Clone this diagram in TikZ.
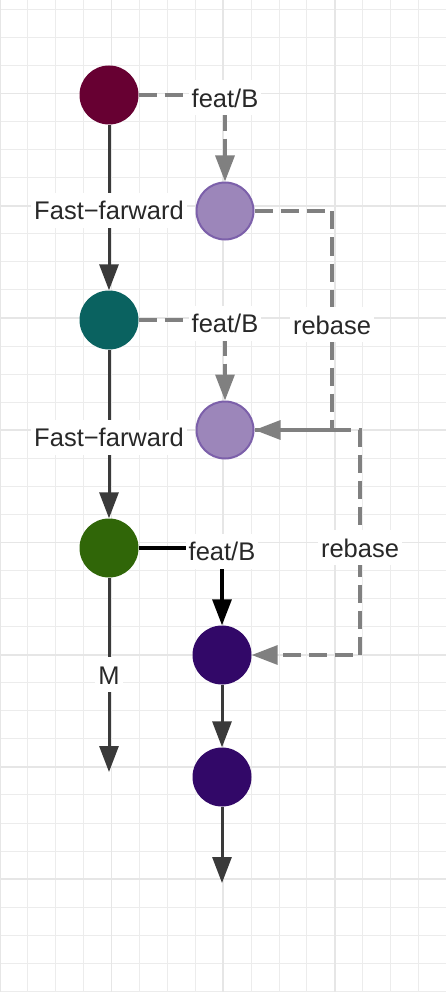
\documentclass[tikz,border=0pt]{standalone}
\usepackage{fontspec}
\setmainfont{Liberation Sans}
\usetikzlibrary{arrows.meta}
\definecolor{cMaroon}{RGB}{103,0,50}
\definecolor{cTeal}{RGB}{10,98,96}
\definecolor{cGreen}{RGB}{48,102,8}
\definecolor{cLav}{RGB}{156,134,186}
\definecolor{cLavB}{RGB}{124,96,170}
\definecolor{cIndigo}{RGB}{50,8,104}
\definecolor{cLine}{RGB}{58,58,58}
\definecolor{cDash}{RGB}{128,128,128}
\definecolor{cText}{RGB}{40,40,40}
\definecolor{cGridMinor}{RGB}{236,236,236}
\definecolor{cGridMajor}{RGB}{230,230,230}
\begin{document}
\begin{tikzpicture}[x=1pt,y=-1pt,
  commit/.style={circle, minimum size=59pt, inner sep=0pt},
  lbl/.style={fill=white, inner xsep=3pt, inner ysep=5pt, text height=22pt, text depth=3pt,
    font=\fontsize{25.5}{30}\selectfont, text=cText},
  tipstyle/.style={-{Triangle[length=26pt,width=19pt]}},
  solidedge/.style={draw=cLine, line width=3pt, tipstyle},
  blackedge/.style={draw=black, line width=3.3pt, tipstyle},
  dashedge/.style={draw=cDash, line width=3.3pt, dash pattern=on 18pt off 8pt, tipstyle},
  gridminor/.style={draw=cGridMinor, line width=1pt},
  gridmajor/.style={draw=cGridMajor, line width=1.6pt},
]
\useasboundingbox (0,0) rectangle (446,992);
\fill[white] (0,0) rectangle (446,992);
\begin{scope}
  \clip (0,0) rectangle (446,992);
  \foreach \k in {0,...,16} { \draw[gridminor] (\k*27.9,0) -- (\k*27.9,992); }
  \foreach \k in {0,...,35} { \draw[gridminor] (0,9.3+\k*28.06) -- (446,9.3+\k*28.06); }
  \foreach \k in {0,...,4} { \draw[gridmajor] (\k*111.6,0) -- (\k*111.6,992); }
  \foreach \k in {0,...,8} { \draw[gridmajor] (0,-18.75+\k*112.25) -- (446,-18.75+\k*112.25); }
\end{scope}

% commits
\node[commit, fill=cMaroon] (A) at (109,95) {};
\node[commit, fill=cLav, draw=cLavB, line width=2pt, minimum size=57pt] (B1) at (225,211) {};
\node[commit, fill=cTeal] (C) at (109,320) {};
\node[commit, fill=cLav, draw=cLavB, line width=2pt, minimum size=57pt] (B2) at (225,430) {};
\node[commit, fill=cGreen] (D) at (109,548) {};
\node[commit, fill=cIndigo] (E) at (222,655) {};
\node[commit, fill=cIndigo] (F) at (222,777) {};

% free ends and bends
\coordinate (mEnd) at (109,772);
\coordinate (fEnd) at (222,883);
\coordinate (r1a) at (332,211);
\coordinate (r1b) at (332,430);
\coordinate (r2a) at (360,430);
\coordinate (r2b) at (360,655);

% edges
\draw[solidedge] (A) -- node[lbl, yshift=-3pt] {Fast−farward} (C);
\draw[dashedge] (A) -| node[lbl, pos=0.5, yshift=-3pt] {feat/B} (B1);
\draw[solidedge] (C) -- node[lbl, yshift=-3pt] {Fast−farward} (D);
\draw[dashedge] (C) -| node[lbl, pos=0.5, yshift=-3pt] {feat/B} (B2);
\draw[blackedge] (D) -| node[lbl, pos=0.5, yshift=-3pt] {feat/B} (E);
\draw[solidedge] (D) -- node[lbl] {M} (mEnd);
\draw[solidedge] (E) -- (F);
\draw[solidedge] (F) -- (fEnd);
\draw[dashedge] (B2) -- (r2a) -- node[lbl, yshift=-5pt] {rebase} (r2b) -- (E);
\draw[dashedge] (B1) -- (r1a) -- node[lbl, yshift=-4pt] {rebase} (r1b) -- (B2);
\end{tikzpicture}
\end{document}
